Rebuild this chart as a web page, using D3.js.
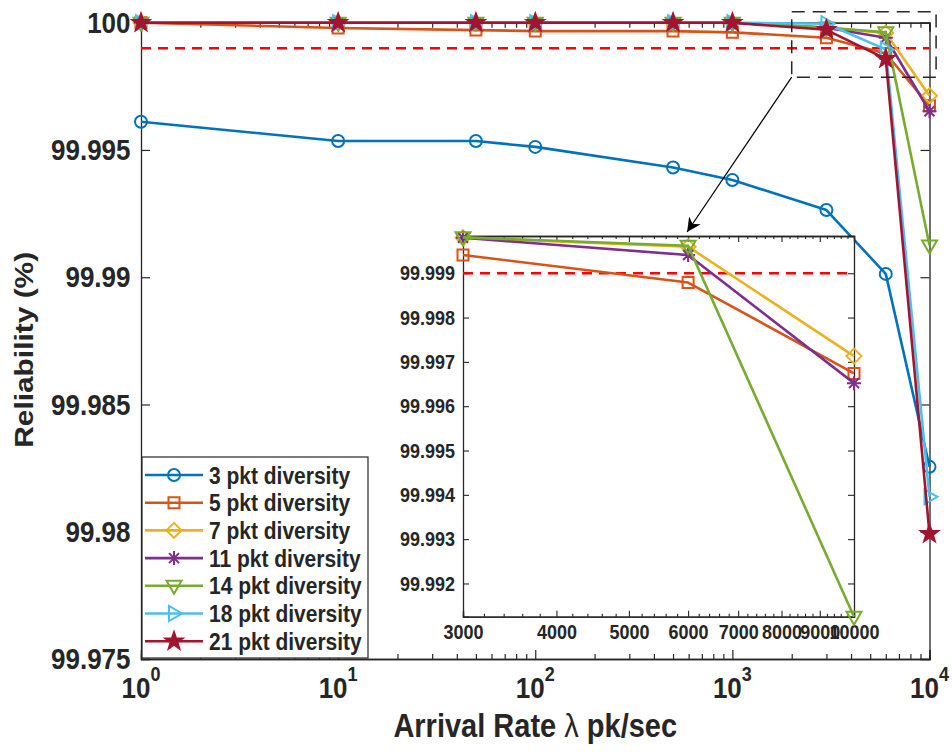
<!DOCTYPE html>
<html>
<head>
<meta charset="utf-8">
<script src="https://cdn.jsdelivr.net/npm/d3@7"></script>
<style>
  body { margin: 0; background: #fff; }
  svg text { font-family: "Liberation Sans", Arial, Helvetica, sans-serif; font-weight: bold; fill: #262626; }
  .tall { transform-box: fill-box; transform-origin: center; transform: scaleY(1.15); }
</style>
</head>
<body>
<div id="chart"></div>
<script>
// arrival rates (pk/sec) and reliability (%) per packet diversity
const rates = [1, 10, 50, 100, 500, 1000, 3000, 6000, 10000];
const rel3  = [99.99611, 99.99535, 99.99535, 99.99512, 99.99431, 99.99382, 99.99264, 99.99013, 99.98255];
const rel5  = [100, 99.99979, 99.99971, 99.99967, 99.99967, 99.99962, 99.99941, 99.99879, 99.99674];
const rel7  = [100, 100, 100, 100, 100, 100, 99.99980, 99.99960, 99.99713];
const rel11 = [100, 100, 100, 100, 100, 100, 99.99980, 99.99941, 99.99652];
const rel14 = [100, 100, 100, 100, 100, 100, 99.99981, 99.99962, 99.99125];
const rel18 = [100, 100, 100, 100, 100, 100, 99.99996, 99.99895, 99.98137];
const rel21 = [100, 100, 100, 100, 100, 100, 99.99972, 99.99858, 99.97992];

const seriesNames = ['3 pkt diversity', '5 pkt diversity', '7 pkt diversity', '11 pkt diversity',
                     '14 pkt diversity', '18 pkt diversity', '21 pkt diversity'];
const seriesValues = [rel3, rel5, rel7, rel11, rel14, rel18, rel21];
const insetSeries = [1, 2, 3, 4];   // series shown in the zoomed inset
const threshold = 99.999;

const yTicks = [99.975, 99.98, 99.985, 99.99, 99.995, 100];
const xTicks = [1, 10, 100, 1000, 10000];
const insetXTicks = [3000, 4000, 5000, 6000, 7000, 8000, 9000, 10000];
const insetYTicks = [99.992, 99.993, 99.994, 99.995, 99.996, 99.997, 99.998, 99.999];
const zoomBoxX = [2000, 10800];
const zoomBoxY = [99.99786, 100.00043];

const colors = ['#0072BD', '#D95319', '#EDB120', '#7E2F8E', '#77AC30', '#4DBEEE', '#A2142F'];
const markers = ['o', 's', 'd', '*', 'v', '>', 'p'];

const width = 952, height = 752;
const margin = {top: 22.7, right: 22.5, bottom: 93, left: 141};
const innerW = width - margin.left - margin.right;
const innerH = height - margin.top - margin.bottom;
const ink = '#262626';

const svg = d3.select('#chart').append('svg')
  .attr('width', width).attr('height', height);

const x = d3.scaleLog().domain([1, 10000]).range([margin.left, margin.left + innerW]);
const y = d3.scaleLinear().domain([99.975, 100]).range([margin.top + innerH, margin.top]);

// marker glyphs
function markerPath(type) {
  switch (type) {
    case 'o': return 'M6,0A6,6 0 1,1 -6,0A6,6 0 1,1 6,0Z';
    case 's': return 'M-5.5,-5.5H5.5V5.5H-5.5Z';
    case 'd': return 'M0,-7.5L7.5,0L0,7.5L-7.5,0Z';
    case '*': return 'M-7,0H7M0,-7V7M-5,-5L5,5M-5,5L5,-5';
    case 'v': return 'M-7.5,-5L7.5,-5L0,8Z';
    case '>': return 'M-5,-7.5L-5,7.5L8,0Z';
    case 'p': {
      const pts = d3.range(10).map(i => {
        const r = i % 2 ? 3.6 : 9, a = -Math.PI / 2 + i * Math.PI / 5;
        return [r * Math.cos(a), r * Math.sin(a)];
      });
      return 'M' + pts.join('L') + 'Z';
    }
  }
}

function drawSeries(g, xs, ys, rows, xFilter) {
  rows.forEach(i => {
    const pts = rates.map((r, j) => [r, seriesValues[i][j]]).filter(p => xFilter(p[0]));
    g.append('path')
      .attr('d', d3.line().x(d => xs(d[0])).y(d => ys(d[1]))(pts))
      .attr('fill', 'none').attr('stroke', colors[i]).attr('stroke-width', 2.6)
      .attr('stroke-linejoin', 'round');
    g.selectAll(null).data(pts).join('path')
      .attr('transform', d => `translate(${xs(d[0])},${ys(d[1])})`)
      .attr('d', markerPath(markers[i]))
      .attr('fill', markers[i] === 'p' ? colors[i] : 'none')
      .attr('stroke', colors[i]).attr('stroke-width', 2);
  });
}

// ---------- main axes ----------
const axes = svg.append('g');
const minorX = [];
[1, 10, 100, 1000].forEach(d => d3.range(2, 10).forEach(m => minorX.push(d * m)));

axes.append('g').attr('transform', `translate(0,${y.range()[0]})`)
  .call(d3.axisBottom(x).tickValues(xTicks).tickSize(-9).tickFormat(''));
axes.append('g').attr('transform', `translate(0,${y.range()[0]})`)
  .call(d3.axisBottom(x).tickValues(minorX).tickSize(-5).tickFormat(''));
axes.append('g').attr('transform', `translate(0,${y.range()[1]})`)
  .call(d3.axisTop(x).tickValues(xTicks).tickSize(-9).tickFormat(''));
axes.append('g').attr('transform', `translate(0,${y.range()[1]})`)
  .call(d3.axisTop(x).tickValues(minorX).tickSize(-5).tickFormat(''));
axes.append('g').attr('transform', `translate(${x.range()[0]},0)`)
  .call(d3.axisLeft(y).tickValues(yTicks).tickSize(-9).tickPadding(10.5)
    .tickFormat(d => String(+d.toFixed(3))))
  .selectAll('text').attr('class', 'tall').style('font-size', '26px');
axes.append('g').attr('transform', `translate(${x.range()[1]},0)`)
  .call(d3.axisRight(y).tickValues(yTicks).tickSize(-9).tickFormat(''));
axes.selectAll('.domain').attr('stroke', ink).attr('stroke-width', 1.3);
axes.selectAll('.tick line').attr('stroke', ink).attr('stroke-width', 1.2);

// x tick labels as powers of ten
const xl = svg.append('g').selectAll('text').data(xTicks).join('text')
  .attr('class', 'tall')
  .attr('x', d => x(d)).attr('y', y.range()[0] + 37)
  .attr('text-anchor', 'middle').style('font-size', '26px');
xl.append('tspan').text('10');
xl.append('tspan').attr('dy', -15).style('font-size', '18px').text(d => Math.round(Math.log10(d)));

// axis titles
const xTitle = svg.append('text').attr('class', 'tall')
  .attr('x', (x.range()[0] + x.range()[1]) / 2).attr('y', height - 16)
  .attr('text-anchor', 'middle').style('font-size', '29px');
xTitle.append('tspan').text('Arrival Rate ');
xTitle.append('tspan').style('font-weight', 'normal').text('λ');
xTitle.append('tspan').text(' pk/sec');
svg.append('text')
  .attr('transform', `translate(33,${(y.range()[0] + y.range()[1]) / 2 + 9}) rotate(-90) scale(1.15,1)`)
  .attr('text-anchor', 'middle').style('font-size', '26px')
  .text('Reliability (%)');

// threshold line
svg.append('line')
  .attr('x1', x.range()[0]).attr('x2', x.range()[1])
  .attr('y1', y(threshold)).attr('y2', y(threshold))
  .attr('stroke', '#FF0000').attr('stroke-width', 2.5).attr('stroke-dasharray', '10,7');

drawSeries(svg.append('g'), x, y, d3.range(seriesValues.length), () => true);

// zoom box and arrow
svg.append('rect')
  .attr('x', x(zoomBoxX[0])).attr('y', y(zoomBoxY[1]))
  .attr('width', x(zoomBoxX[1]) - x(zoomBoxX[0])).attr('height', y(zoomBoxY[0]) - y(zoomBoxY[1]))
  .attr('fill', 'none').attr('stroke', ink).attr('stroke-width', 1.5).attr('stroke-dasharray', '13,8');

// ---------- inset ----------
const ix = d3.scaleLog().domain([3000, 10000]).range([463, 854]);
const iy = d3.scaleLinear().domain([99.99125, 99.99984]).range([616.7, 236]);

svg.append('defs').append('marker').attr('id', 'head')
  .attr('viewBox', '0 0 10 10').attr('refX', 10).attr('refY', 5)
  .attr('markerWidth', 14).attr('markerHeight', 14).attr('markerUnits', 'userSpaceOnUse')
  .attr('orient', 'auto')
  .append('path').attr('d', 'M0,0L10,5L0,10L3,5Z').attr('fill', '#000');
svg.append('line')
  .attr('x1', x(zoomBoxX[0])).attr('y1', y(zoomBoxY[0]))
  .attr('x2', ix(6000) - 1).attr('y2', iy.range()[1] - 4)
  .attr('stroke', '#000').attr('stroke-width', 1.2).attr('marker-end', 'url(#head)');

const inset = svg.append('g');
inset.append('rect')
  .attr('x', ix.range()[0]).attr('y', iy.range()[1])
  .attr('width', ix.range()[1] - ix.range()[0]).attr('height', iy.range()[0] - iy.range()[1])
  .attr('fill', '#fff');

const insetMinor = d3.range(3200, 10000, 200).filter(d => d % 1000 !== 0);
inset.append('g').attr('transform', `translate(0,${iy.range()[0]})`)
  .call(d3.axisBottom(ix).tickValues(insetXTicks).tickSize(-6).tickPadding(9).tickFormat(d3.format('d')))
  .selectAll('text').attr('class', 'tall').style('font-size', '18px');
inset.append('g').attr('transform', `translate(0,${iy.range()[0]})`)
  .call(d3.axisBottom(ix).tickValues(insetMinor).tickSize(-3).tickFormat(''));
inset.append('g').attr('transform', `translate(0,${iy.range()[1]})`)
  .call(d3.axisTop(ix).tickValues(insetXTicks).tickSize(-6).tickFormat(''));
inset.append('g').attr('transform', `translate(0,${iy.range()[1]})`)
  .call(d3.axisTop(ix).tickValues(insetMinor).tickSize(-3).tickFormat(''));
inset.append('g').attr('transform', `translate(${ix.range()[0]},0)`)
  .call(d3.axisLeft(iy).tickValues(insetYTicks).tickSize(-6).tickPadding(8).tickFormat(d3.format('.3f')))
  .selectAll('text').attr('class', 'tall').style('font-size', '18px');
inset.append('g').attr('transform', `translate(${ix.range()[1]},0)`)
  .call(d3.axisRight(iy).tickValues(insetYTicks).tickSize(-6).tickFormat(''));
inset.selectAll('.domain').attr('stroke', ink).attr('stroke-width', 1.3);
inset.selectAll('.tick line').attr('stroke', ink).attr('stroke-width', 1.1);

inset.append('line')
  .attr('x1', ix.range()[0]).attr('x2', ix.range()[1])
  .attr('y1', iy(threshold)).attr('y2', iy(threshold))
  .attr('stroke', '#FF0000').attr('stroke-width', 2.5).attr('stroke-dasharray', '10,7');

drawSeries(inset.append('g'), ix, iy, insetSeries, r => r >= 3000);

// ---------- legend ----------
const lg = svg.append('g').attr('transform', 'translate(142,457)');
lg.append('rect').attr('width', 226).attr('height', 201)
  .attr('fill', '#fff').attr('stroke', ink).attr('stroke-width', 1.2);
const rows = lg.selectAll('g').data(seriesNames).join('g')
  .attr('transform', (d, i) => `translate(0,${18 + i * 27.7})`);
rows.append('line').attr('x1', 3).attr('x2', 61)
  .attr('stroke', (d, i) => colors[i]).attr('stroke-width', 2.6);
rows.append('path').attr('transform', 'translate(32,0)')
  .attr('d', (d, i) => markerPath(markers[i]))
  .attr('fill', (d, i) => markers[i] === 'p' ? colors[i] : 'none')
  .attr('stroke', (d, i) => colors[i]).attr('stroke-width', 2);
rows.append('text').attr('class', 'tall').attr('x', 67).attr('y', 7.5)
  .style('font-size', '21px').text(d => d);
</script>
</body>
</html>
